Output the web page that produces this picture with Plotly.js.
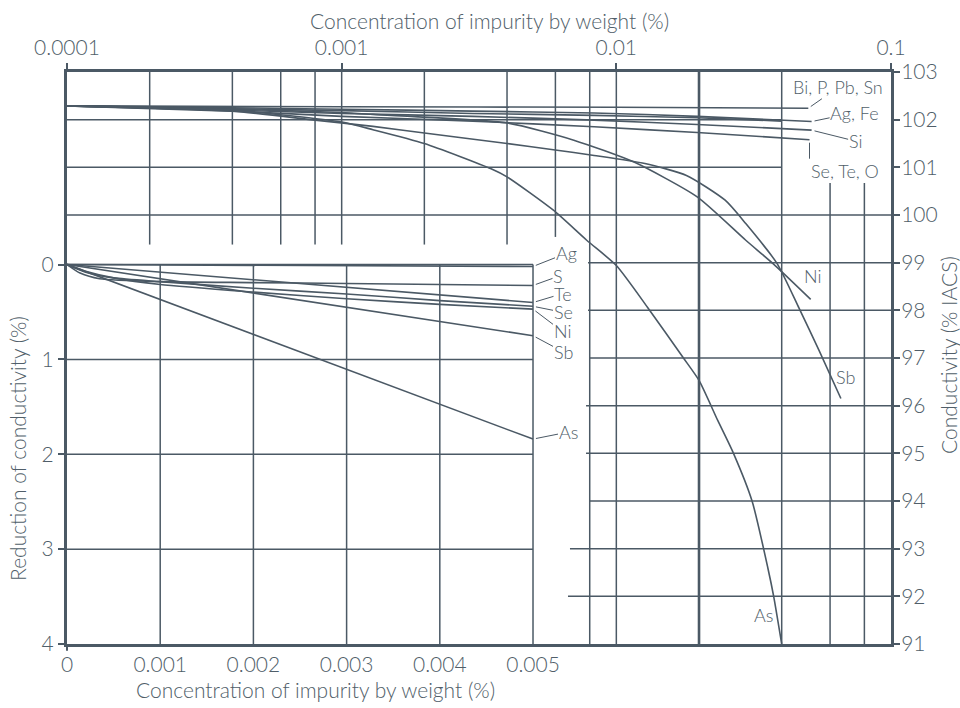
<!DOCTYPE html>
<html>
<head>
<meta charset="utf-8">
<script src="https://cdn.plot.ly/plotly-3.0.1.min.js"></script>
<style>
  html, body { margin: 0; padding: 0; background: #ffffff; }
  #chart { width: 960px; height: 708px; }
</style>
</head>
<body>
<div id="chart"></div>
<script>
// ---- Lower-left panel: reduction of conductivity (%) vs concentration (%), linear scale ----
const lowAgConc = [0, 0.005];
const lowAgRed  = [0, 0.02];
const lowSConc  = [0, 0.00014, 0.00035, 0.001, 0.002, 0.003, 0.004, 0.005];
const lowSRed   = [0, 0.09, 0.15, 0.18, 0.19, 0.20, 0.21, 0.22];
const lowTeConc = [0, 0.005];
const lowTeRed  = [0, 0.40];
const lowSeConc = [0, 0.0002, 0.0005, 0.001, 0.002, 0.003, 0.004, 0.005];
const lowSeRed  = [0, 0.08, 0.14, 0.18, 0.25, 0.31, 0.38, 0.44];
const lowNiConc = [0, 0.0002, 0.0005, 0.001, 0.002, 0.003, 0.004, 0.005];
const lowNiRed  = [0, 0.07, 0.14, 0.21, 0.29, 0.36, 0.42, 0.47];
const lowSbConc = [0, 0.005];
const lowSbRed  = [0, 0.75];
const lowAsConc = [0, 0.005];
const lowAsRed  = [0, 1.84];

// ---- Upper panel: conductivity (% IACS) vs concentration (%), log scale ----
const hiBiConc   = [0.0001, 0.001, 0.01, 0.05];
const hiBiCond   = [102.29, 102.27, 102.26, 102.24];
const hiAgFeConc = [0.0001, 0.0004, 0.001, 0.003, 0.0083, 0.0197, 0.0514];
const hiAgFeCond = [102.29, 102.25, 102.22, 102.18, 102.14, 102.07, 101.96];
const hiFe2Conc  = [0.0001, 0.0004, 0.001, 0.003, 0.0083, 0.0197, 0.04];
const hiFe2Cond  = [102.29, 102.23, 102.19, 102.13, 102.09, 102.04, 101.97];
const hiSiConc   = [0.0001, 0.0004, 0.001, 0.003, 0.0083, 0.0197, 0.0514];
const hiSiCond   = [102.29, 102.20, 102.13, 102.07, 101.99, 101.90, 101.78];
const hiSeConc   = [0.0001, 0.0004, 0.001, 0.003, 0.0083, 0.0197, 0.0505];
const hiSeCond   = [102.29, 102.18, 102.07, 101.97, 101.85, 101.73, 101.58];
const hiNiConc   = [0.0001, 0.0004, 0.001, 0.0013, 0.004, 0.007, 0.0116, 0.0197, 0.0296, 0.0372, 0.051];
const hiNiCond   = [102.29, 102.22, 102.15, 102.11, 101.93, 101.57, 101.11, 100.38, 99.47, 98.98, 98.23];
const hiSbConc   = [0.0001, 0.0004, 0.0008, 0.0013, 0.002, 0.004, 0.0059, 0.0083, 0.0127, 0.018, 0.0249, 0.0296, 0.0385, 0.0463, 0.0547, 0.0657];
const hiSbCond   = [102.29, 102.18, 101.99, 101.86, 101.72, 101.50, 101.37, 101.25, 101.08, 100.83, 100.31, 99.82, 98.98, 98.04, 97.16, 96.15];
const hiAsConc   = [0.0001, 0.0004, 0.001, 0.0013, 0.002, 0.0035, 0.004, 0.0059, 0.0078, 0.01, 0.013, 0.0175, 0.02, 0.0234, 0.0267, 0.0312, 0.0356, 0.0374, 0.04];
const hiAsCond   = [102.29, 102.20, 101.95, 101.79, 101.50, 100.97, 100.80, 100.10, 99.47, 98.94, 98.06, 97.01, 96.53, 95.69, 95.00, 94.00, 92.60, 92.00, 91.00];

// ---- Tick labels ----
const bottomTicks = [0, 0.001, 0.002, 0.003, 0.004, 0.005];
const bottomTickText = ['0', '0.001', '0.002', '0.003', '0.004', '0.005'];
const topTicks = [0.0001, 0.001, 0.01, 0.1];
const topTickText = ['0.0001', '0.001', '0.01', '0.1'];
const leftTicks = [0, 1, 2, 3, 4];
const rightTicks = [91, 92, 93, 94, 95, 96, 97, 98, 99, 100, 101, 102, 103];

const INK = '#4b5965';
const TEXT = '#505e69';
const FONT = 'Lato, "Liberation Sans", Arial, sans-serif';

function curve(x, y, xa, ya, smooth) {
  return {
    x: x, y: y, xaxis: xa, yaxis: ya, type: 'scatter', mode: 'lines',
    line: { color: INK, width: 1.6, shape: smooth ? 'spline' : 'linear', smoothing: 0.6 },
    hoverinfo: 'skip', showlegend: false
  };
}

const traces = [
  curve(lowAgConc, lowAgRed, 'x', 'y'),
  curve(lowSConc, lowSRed, 'x', 'y', true),
  curve(lowTeConc, lowTeRed, 'x', 'y'),
  curve(lowSeConc, lowSeRed, 'x', 'y', true),
  curve(lowNiConc, lowNiRed, 'x', 'y', true),
  curve(lowSbConc, lowSbRed, 'x', 'y'),
  curve(lowAsConc, lowAsRed, 'x', 'y'),
  curve(hiBiConc, hiBiCond, 'x2', 'y2', true),
  curve(hiAgFeConc, hiAgFeCond, 'x2', 'y2', true),
  curve(hiFe2Conc, hiFe2Cond, 'x2', 'y2', true),
  curve(hiSiConc, hiSiCond, 'x2', 'y2', true),
  curve(hiSeConc, hiSeCond, 'x2', 'y2', true),
  curve(hiNiConc, hiNiCond, 'x2', 'y2', true),
  curve(hiSbConc, hiSbCond, 'x2', 'y2', true),
  curve(hiAsConc, hiAsCond, 'x2', 'y2', true)
];

// ---- Grid segments ----
function seg(xref, yref, x0, y0, x1, y1, w) {
  return { type: 'line', xref: xref, yref: yref, x0: x0, y0: y0, x1: x1, y1: y1,
           line: { color: INK, width: w || 1.5 }, layer: 'below' };
}
const shapes = [];
// lower-left linear panel
[0, 1, 2, 3].forEach(v => shapes.push(seg('x', 'y', 0, v, 0.005, v)));
[0.001, 0.002, 0.003, 0.004, 0.005].forEach(v => shapes.push(seg('x', 'y', v, 0, v, 4)));
// upper log panel: short verticals
[2e-4, 4e-4, 6e-4, 8e-4, 1e-3, 2e-3, 4e-3].forEach(v => shapes.push(seg('x2', 'y2', v, 99.38, v, 103)));
shapes.push(seg('x2', 'y2', 6e-3, 99.54, 6e-3, 103));
// full-height verticals on the right
[8e-3, 1e-2, 4e-2].forEach(v => shapes.push(seg('x2', 'y2', v, 91, v, 103)));
shapes.push(seg('x2', 'y2', 2e-2, 91, 2e-2, 103, 2.6));
[6e-2, 8e-2].forEach(v => shapes.push(seg('x2', 'y2', v, 91, v, 100.67)));
// upper horizontals
[102, 101].forEach(v => shapes.push(seg('x2', 'y2', 1e-4, v, 4e-2, v)));
shapes.push(seg('x2', 'y2', 1e-4, 100, 0.1, 100));
// lower-right horizontals, each starting a little left of the 0.008 line
const rowStart = [[99, 0.6323], [98, 0.6323], [97, 0.6335], [96, 0.6299],
                  [95, 0.6299], [94, 0.6347], [93, 0.6104], [92, 0.6080]];
rowStart.forEach(([v, p]) => shapes.push(seg('paper', 'y2', p, v, 1, v)));
// small tick under the origin of the lower scale
shapes.push({ type: 'line', xref: 'paper', yref: 'paper', x0: 0, x1: 0, y0: 0, y1: -0.012,
              line: { color: INK, width: 2 } });

// ---- Labels ----
const lblFont = { family: FONT, size: 18, color: TEXT, weight: 300 };
const titleFont = { family: FONT, size: 21, color: TEXT, weight: 300 };
function leader(xref, yref, x, y, text, ax, ay, xanchor, yanchor) {
  return { xref: xref, yref: yref, x: x, y: y, text: text, showarrow: true,
           arrowhead: 0, arrowwidth: 1, arrowcolor: INK, ax: ax, ay: ay, standoff: 3,
           xanchor: xanchor || 'auto', yanchor: yanchor || 'auto', borderpad: 0,
           font: lblFont };
}
function tag(x, y, text, font, angle) {
  return { xref: 'paper', yref: 'paper', x: x, y: y, text: text, showarrow: false,
           xanchor: 'center', yanchor: 'middle', textangle: angle || 0, font: font };
}
function last(a) { return a[a.length - 1]; }
const L = Math.log10;
const annotations = [
  // lower-left panel
  leader('x', 'y', last(lowAgConc), last(lowAgRed), 'Ag', 33, -13),
  leader('x', 'y', last(lowSConc), last(lowSRed), 'S', 25, -9),
  leader('x', 'y', last(lowTeConc), last(lowTeRed), 'Te', 30, -9),
  leader('x', 'y', last(lowSeConc), last(lowSeRed), 'Se', 30, 6),
  leader('x', 'y', last(lowNiConc), last(lowNiRed), 'Ni', 29, 22),
  leader('x', 'y', last(lowSbConc), last(lowSbRed), 'Sb', 30, 16),
  leader('x', 'y', last(lowAsConc), last(lowAsRed), 'As', 35, -7),
  // upper panel
  leader('x2', 'y2', L(last(hiBiConc)), last(hiBiCond), 'Bi, P, Pb, Sn', 30, -21),
  leader('x2', 'y2', L(last(hiAgFeConc)), last(hiAgFeCond), 'Ag, Fe', 43, -9),
  leader('x2', 'y2', L(last(hiSiConc)), last(hiSiCond), 'Si', 44, 11),
  leader('x2', 'y2', L(last(hiSeConc)), last(hiSeCond), 'Se, Te, O', 0, 19, 'left', 'top'),
  tag(0.9047, 0.6425, 'Ni', lblFont),
  tag(0.9442, 0.4668, 'Sb', lblFont),
  tag(0.8447, 0.0507, 'As', lblFont),
  // axis titles
  tag(0.5133, 1.0909, 'Concentration of impurity by weight (%)', titleFont),
  tag(0.301, -0.0804, 'Concentration of impurity by weight (%)', titleFont),
  tag(-0.0595, 0.3427, 'Reduction of conductivity (%)', titleFont, -90),
  tag(1.069, 0.505, 'Conductivity (% IACS)', titleFont, -90)
];

const tickFont = { family: FONT, size: 21, color: TEXT, weight: 300 };
const axisBase = { showgrid: false, zeroline: false, showline: true, linecolor: INK, linewidth: 3,
                   tickfont: tickFont, tickcolor: INK, tickwidth: 2, fixedrange: true };

const layout = {
  width: 960, height: 708,
  margin: { l: 67, r: 69, t: 72, b: 64 },
  paper_bgcolor: '#ffffff', plot_bgcolor: '#ffffff',
  showlegend: false,
  xaxis: Object.assign({}, axisBase, {
    type: 'linear', range: [0, 0.008841], tickmode: 'array', tickvals: bottomTicks, ticktext: bottomTickText,
    ticks: '', anchor: 'y', side: 'bottom'
  }),
  yaxis: Object.assign({}, axisBase, {
    type: 'linear', range: [4, -2.03], tickmode: 'array', tickvals: leftTicks,
    ticks: 'outside', ticklen: 6, anchor: 'x', side: 'left'
  }),
  xaxis2: Object.assign({}, axisBase, {
    type: 'log', range: [-4, -1], tickmode: 'array', tickvals: topTicks, ticktext: topTickText,
    ticks: 'outside', ticklen: 6, overlaying: 'x', anchor: 'y2', side: 'top'
  }),
  yaxis2: Object.assign({}, axisBase, {
    type: 'linear', range: [91, 103], tickmode: 'array', tickvals: rightTicks,
    ticks: 'outside', ticklen: 6, ticklabelstandoff: -3, overlaying: 'y', anchor: 'x2', side: 'right'
  }),
  shapes: shapes,
  annotations: annotations
};

Plotly.newPlot('chart', traces, layout, { staticPlot: true, displayModeBar: false });
</script>
</body>
</html>
